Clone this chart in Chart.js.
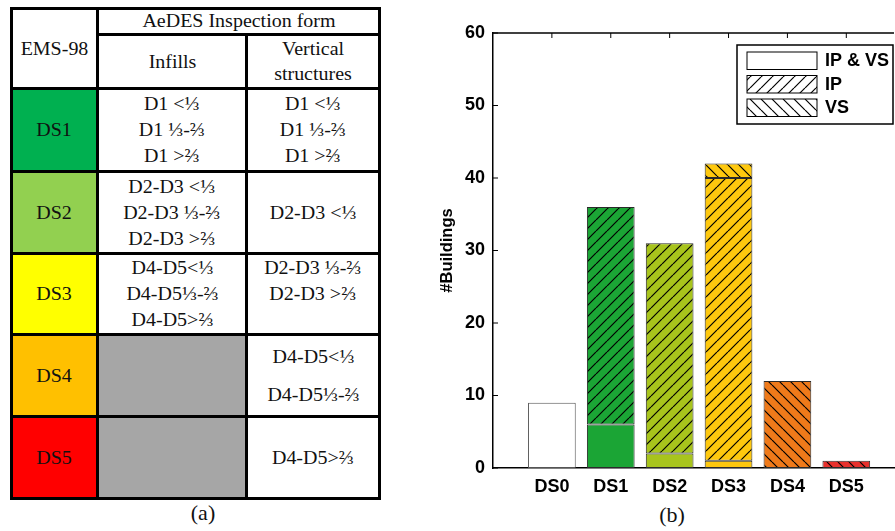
<!DOCTYPE html>
<html>
<head>
<meta charset="utf-8">
<script src="https://cdn.jsdelivr.net/npm/chart.js"></script>
<style>
  body { margin: 0; width: 895px; height: 531px; background: #fff; position: relative; overflow: hidden; }
  #damageTable {
    position: absolute; left: 10px; top: 7px; width: 368px;
    border-collapse: collapse; table-layout: fixed;
    font-family: "Liberation Serif", "Times New Roman", serif; font-size: 18px; color: #111;
  }
  #damageTable td { border: 3px solid #000; text-align: center; vertical-align: middle; padding: 0; line-height: 26px; overflow: visible; white-space: nowrap; }
  #damageTable td span { display: inline-block; transform: scaleX(1.11); }
  #damageTable td.thin-b { border-bottom-width: 2px; line-height: 21px; }
  #damageTable td.thin-r { border-right-width: 2px; }
  .ds1 { background: #00b050; }
  .ds2 { background: #92d050; }
  .ds3 { background: #ffff00; }
  .ds4 { background: #ffc000; }
  .ds5 { background: #ff0000; }
  .na { background: #a6a6a6; }
  .caption { position: absolute; font-family: "Liberation Serif", "Times New Roman", serif; font-size: 22px; color: #111; transform: translateX(-50%); }
  #chartBox { position: absolute; left: 420px; top: 0; width: 475px; height: 500px; }
</style>
</head>
<body>

<table id="damageTable">
  <colgroup><col style="width:86px"><col style="width:149px"><col style="width:133px"></colgroup>
  <tr style="height:26px">
    <td rowspan="2"><span>EMS-98</span></td>
    <td colspan="2" class="thin-b"><span>AeDES Inspection form</span></td>
  </tr>
  <tr style="height:54px">
    <td class="thin-r"><span>Infills</span></td>
    <td style="line-height:25px"><span>Vertical<br>structures</span></td>
  </tr>
  <tr style="height:83px">
    <td class="ds1"><span>DS1</span></td>
    <td><span>D1 &lt;⅓<br>D1 ⅓-⅔<br>D1 &gt;⅔</span></td>
    <td><span>D1 &lt;⅓<br>D1 ⅓-⅔<br>D1 &gt;⅔</span></td>
  </tr>
  <tr style="height:82px">
    <td class="ds2"><span>DS2</span></td>
    <td><span>D2-D3 &lt;⅓<br>D2-D3 ⅓-⅔<br>D2-D3 &gt;⅔</span></td>
    <td><span>D2-D3 &lt;⅓</span></td>
  </tr>
  <tr style="height:81px">
    <td class="ds3"><span>DS3</span></td>
    <td><span>D4-D5&lt;⅓<br>D4-D5⅓-⅔<br>D4-D5&gt;⅔</span></td>
    <td><span>D2-D3 ⅓-⅔<br>D2-D3 &gt;⅔<br>&nbsp;</span></td>
  </tr>
  <tr style="height:82px">
    <td class="ds4"><span>DS4</span></td>
    <td class="na"></td>
    <td style="line-height:38px"><span>D4-D5&lt;⅓<br>D4-D5⅓-⅔</span></td>
  </tr>
  <tr style="height:82px">
    <td class="ds5"><span>DS5</span></td>
    <td class="na"></td>
    <td><span>D4-D5&gt;⅔</span></td>
  </tr>
</table>
<div class="caption" style="left:203px; top:500px">(a)</div>
<div class="caption" style="left:672px; top:502px">(b)</div>

<div id="chartBox"><canvas id="buildingsChart"></canvas></div>

<script>
const categories = ["DS0", "DS1", "DS2", "DS3", "DS4", "DS5"];
const ipAndVs = [9, 6, 2, 1, null, null];
const ipOnly = [null, 30, 29, 39, null, null];
const vsOnly = [null, null, null, 2, 12, 1];
const yTicks = [0, 10, 20, 30, 40, 50, 60];
const seriesNames = ["IP & VS", "IP", "VS"];
const barColors = ["#ffffff", "#1ba535", "#a8c41c", "#fec80e", "#ef7a1a", "#e8302c"];

const axisFont = { family: "Liberation Sans, Arial, sans-serif", size: 18, weight: "bold" };

// diagonal hatch tile, "/" or "\"
function hatch(color, dir) {
    let s = 11;
    let tile = document.createElement("canvas");
    tile.width = s;
    tile.height = s;
    let c = tile.getContext("2d");
    c.fillStyle = color;
    c.fillRect(0, 0, s, s);
    c.strokeStyle = "#000";
    c.lineWidth = 1.2;
    c.beginPath();
    for (let k = -1; k <= 1; k++) {
        if (dir === "/") {
            c.moveTo(k * s, s);
            c.lineTo(k * s + s, 0);
        } else {
            c.moveTo(k * s, 0);
            c.lineTo(k * s + s, s);
        }
    }
    c.stroke();
    return c.createPattern(tile, "repeat");
}

function points(values) {
    return categories.map((name, i) => ({ x: i, y: values[i] }));
}

let edgeColors = barColors.map((c, i) => i === 0 ? "#555" : "#2a2a2a");
let legendFills = ["#ffffff", hatch("#ffffff", "/"), hatch("#ffffff", "\\")];

// frame, inward ticks and the boxed legend inside the plot
let framePlugin = {
    id: "framePlugin",
    afterDraw(chart) {
        let ctx = chart.ctx;
        let area = chart.chartArea;
        let xs = chart.scales.x;
        let ys = chart.scales.y;
        ctx.save();
        ctx.strokeStyle = "#000";
        ctx.lineWidth = 1.5;
        ctx.beginPath();
        ctx.moveTo(area.left, area.top);
        ctx.lineTo(area.right, area.top);
        ctx.stroke();

        ctx.lineWidth = 1;
        ctx.beginPath();
        categories.forEach((name, i) => {
            let px = xs.getPixelForValue(i);
            ctx.moveTo(px, area.top);
            ctx.lineTo(px, area.top + 5);
        });
        yTicks.forEach(v => {
            let py = ys.getPixelForValue(v);
            ctx.moveTo(area.left, py);
            ctx.lineTo(area.left + 5, py);
        });
        ctx.stroke();

        // legend
        let boxW = 156, boxH = 79;
        let bx = area.right - boxW - 1;
        let by = area.top + 12;
        ctx.fillStyle = "#fff";
        ctx.fillRect(bx, by, boxW, boxH);
        ctx.lineWidth = 1.5;
        ctx.strokeRect(bx, by, boxW, boxH);
        ctx.font = "bold 18px Liberation Sans, Arial, sans-serif";
        ctx.textBaseline = "middle";
        seriesNames.forEach((name, i) => {
            let sx = bx + 10;
            let sy = by + 7 + i * 23.5;
            ctx.fillStyle = legendFills[i];
            ctx.fillRect(sx, sy, 70, 17.5);
            ctx.lineWidth = 1;
            ctx.strokeStyle = "#000";
            ctx.strokeRect(sx, sy, 70, 17.5);
            ctx.fillStyle = "#000";
            ctx.fillText(name, sx + 78, sy + 9.5);
        });
        ctx.restore();
    }
};

new Chart(document.getElementById("buildingsChart"), {
    type: "bar",
    data: {
        datasets: [
            { label: seriesNames[0], data: points(ipAndVs), backgroundColor: barColors, borderColor: edgeColors },
            { label: seriesNames[1], data: points(ipOnly), backgroundColor: barColors.map(c => hatch(c, "/")), borderColor: edgeColors },
            { label: seriesNames[2], data: points(vsOnly), backgroundColor: barColors.map(c => hatch(c, "\\")), borderColor: edgeColors }
        ]
    },
    options: {
        responsive: true,
        maintainAspectRatio: false,
        animation: false,
        layout: { padding: { top: 33, right: 1, left: 0, bottom: 0 } },
        datasets: {
            bar: { borderWidth: 1, borderSkipped: false, barPercentage: 0.81, categoryPercentage: 1 }
        },
        plugins: {
            legend: { display: false },
            tooltip: { enabled: false }
        },
        scales: {
            x: {
                type: "linear",
                stacked: true,
                offset: false,
                min: -1,
                max: 5.81,
                afterBuildTicks: s => { s.ticks = categories.map((name, i) => ({ value: i })); },
                afterFit: s => { s.height = 32; },
                grid: { display: false, drawTicks: false, offset: false },
                border: { display: true, color: "#000", width: 1.5 },
                ticks: {
                    color: "#000",
                    font: axisFont,
                    padding: 8,
                    autoSkip: false,
                    maxRotation: 0,
                    callback: v => categories[v]
                }
            },
            y: {
                stacked: true,
                min: 0,
                max: 60,
                afterBuildTicks: s => { s.ticks = yTicks.map(v => ({ value: v })); },
                afterFit: s => { s.width = 73; },
                grid: { display: false, drawTicks: false },
                border: { display: true, color: "#000", width: 1.5 },
                ticks: { color: "#000", font: axisFont, padding: 8 },
                title: {
                    display: true,
                    text: "#Buildings",
                    color: "#000",
                    font: { family: "Liberation Sans, Arial, sans-serif", size: 16.5, weight: "bold" },
                    padding: { top: 18, bottom: 0 }
                }
            }
        }
    },
    plugins: [framePlugin]
});
</script>
</body>
</html>
